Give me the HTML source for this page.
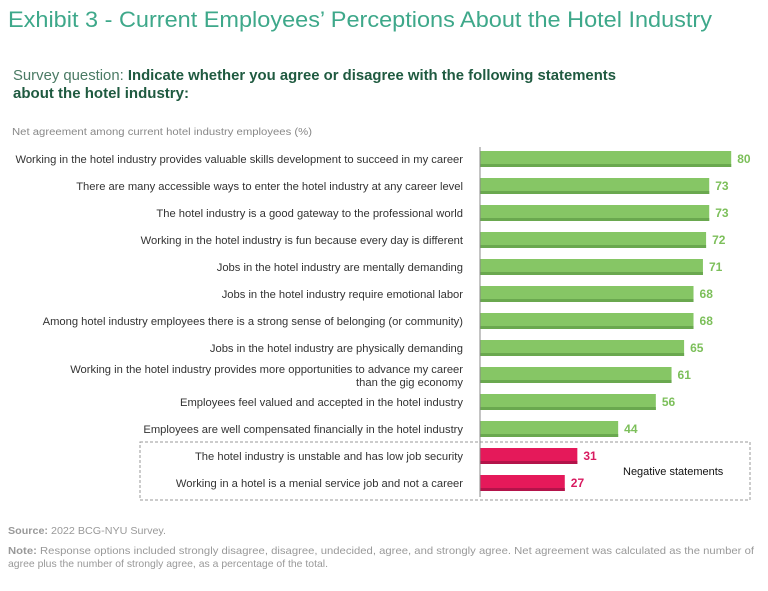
<!DOCTYPE html>
<html><head><meta charset="utf-8"><style>
body{margin:0;background:#fff;}
svg{display:block;font-family:"Liberation Sans",sans-serif;}
</style></head><body>
<svg id="chart" width="768" height="591" viewBox="0 0 768 591">
<text x="8" y="27" font-size="22" fill="#3ea88a" textLength="704" lengthAdjust="spacingAndGlyphs">Exhibit 3 - Current Employees’ Perceptions About the Hotel Industry</text>
<text x="13" y="80" font-size="14.5" fill="#2f6b52" textLength="603" lengthAdjust="spacingAndGlyphs"><tspan fill="#4a7a64">Survey question: </tspan><tspan font-weight="bold" fill="#1f5a40">Indicate whether you agree or disagree with the following statements</tspan></text>
<text x="13" y="98" font-size="14.5" font-weight="bold" fill="#1f5a40" textLength="176" lengthAdjust="spacingAndGlyphs">about the hotel industry:</text>
<text x="12" y="135" font-size="10" fill="#888" textLength="300" lengthAdjust="spacingAndGlyphs">Net agreement among current hotel industry employees (%)</text>
<rect x="140" y="442" width="610" height="58" fill="none" stroke="#999" stroke-dasharray="3,2"/>
<text x="623" y="475" font-size="11" fill="#111">Negative statements</text>
<g id="bars"></g>
<line x1="480" y1="147" x2="480" y2="497" stroke="#888" stroke-width="1"/>
<text x="8" y="534" font-size="10.5" fill="#999" textLength="158" lengthAdjust="spacingAndGlyphs"><tspan font-weight="bold">Source:</tspan> 2022 BCG-NYU Survey.</text>
<text x="8" y="554" font-size="10.5" fill="#999" textLength="746" lengthAdjust="spacingAndGlyphs"><tspan font-weight="bold">Note:</tspan> Response options included strongly disagree, disagree, undecided, agree, and strongly agree. Net agreement was calculated as the number of</text>
<text x="8" y="567" font-size="10.5" fill="#999" textLength="320" lengthAdjust="spacingAndGlyphs">agree plus the number of strongly agree, as a percentage of the total.</text>
</svg>
<script>
const categories=[
["Working in the hotel industry provides valuable skills development to succeed in my career"],
["There are many accessible ways to enter the hotel industry at any career level"],
["The hotel industry is a good gateway to the professional world"],
["Working in the hotel industry is fun because every day is different"],
["Jobs in the hotel industry are mentally demanding"],
["Jobs in the hotel industry require emotional labor"],
["Among hotel industry employees there is a strong sense of belonging (or community)"],
["Jobs in the hotel industry are physically demanding"],
["Working in the hotel industry provides more opportunities to advance my career","than the gig economy"],
["Employees feel valued and accepted in the hotel industry"],
["Employees are well compensated financially in the hotel industry"],
["The hotel industry is unstable and has low job security"],
["Working in a hotel is a menial service job and not a career"]
];
const values=[80,73,73,72,71,68,68,65,61,56,44,31,27];
const negative=[false,false,false,false,false,false,false,false,false,false,false,true,true];
const NS="http://www.w3.org/2000/svg";
const g=document.getElementById('bars');
const x=v=>480+v*3.14;
const y=i=>159+i*27;
function mk(t,a){const e=document.createElementNS(NS,t);for(const k in a)e.setAttribute(k,a[k]);g.appendChild(e);return e;}
values.forEach((v,i)=>{
  const cy=y(i);
  const col=negative[i]?"#e5195a":"#86c665";
  const dark=negative[i]?"#b3134a":"#6aa84f";
  const fg=negative[i]?"#d81b60":"#7cbf5a";
  const r=mk('rect',{x:480,y:cy-8,width:x(v)-480,height:16,fill:col});
  
  
  const s=mk('rect',{x:480,y:cy+5,width:x(v)-480,height:3,fill:dark});
  
  
  const t=mk('text',{x:x(v)+6,y:cy+4,'font-size':12,'font-weight':'bold',fill:fg});
  t.textContent=v;
  
  
  const lines=categories[i];
  lines.forEach((ln,j)=>{
    const ly=lines.length>1?cy-6+j*13+4:cy+4;
    const l=mk('text',{x:463,y:ly,'font-size':11.2,fill:'#333','text-anchor':'end'});
    l.textContent=ln;
    
    
  });
});
</script>
</body></html>
